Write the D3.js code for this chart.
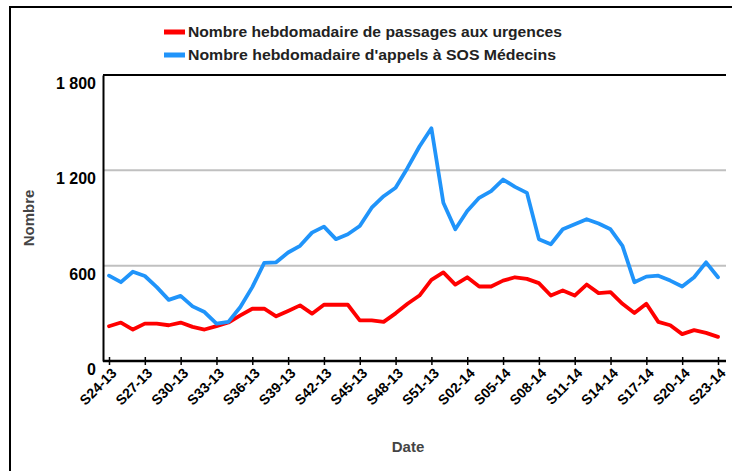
<!DOCTYPE html>
<html><head><meta charset="utf-8">
<script src="https://cdn.jsdelivr.net/npm/d3@7"></script>
<style>
html,body{margin:0;padding:0;background:#fff;}
svg{display:block;font-family:"Liberation Sans",Arial,sans-serif;font-weight:bold;}
</style></head>
<body>
<svg id="chart" width="732" height="471"></svg>
<script>
const weeks = [];
for (let w = 24; w <= 52; w++) weeks.push("S" + String(w).padStart(2,"0") + "-13");
for (let w = 1; w <= 23; w++) weeks.push("S" + String(w).padStart(2,"0") + "-14");

const urgences = [219,242,198,235,235,225,242,215,198,219,242,287,329,329,281,315,350,298,354,354,354,256,256,246,300,360,412,510,558,481,527,469,469,506,527,517,490,412,444,412,481,427,433,360,302,360,246,225,169,194,177,152];
const sosMedecins = [537,496,562,535,465,385,410,344,308,235,246,340,465,617,621,683,725,808,846,767,798,850,965,1037,1090,1215,1350,1465,996,829,944,1027,1069,1142,1096,1058,767,735,829,860,892,865,829,725,496,531,537,506,469,527,621,527];

const yTicks = [0, 600, 1200, 1800];
const xTickLabels = weeks.filter((d,i) => i % 3 === 0);
const seriesNames = ["Nombre hebdomadaire de passages aux urgences", "Nombre hebdomadaire d'appels à SOS Médecins"];
const seriesColors = ["#ff0000", "#2094fa"];

const svg = d3.select("#chart");
const plot = {left:103, right:726, top:75, bottom:361};

const x = d3.scalePoint().domain(weeks).range([109, 718]);
const y = d3.scaleLinear().domain([0, 1800]).range([plot.bottom, plot.top]);
const fmt = d3.formatLocale({decimal:",", thousands:" ", grouping:[3], currency:["","€"]}).format(",d");

// outer frame
svg.append("path").attr("d","M10,480V7H740").attr("fill","none").attr("stroke","#000").attr("stroke-width",2);

// gridlines
svg.append("g").selectAll("line").data(yTicks.filter(d => d > 0 && d < 1800)).join("line")
  .attr("x1", plot.left).attr("x2", plot.right)
  .attr("y1", d => y(d)).attr("y2", d => y(d))
  .attr("stroke", "#c0c0c0").attr("stroke-width", 2);

// top border
svg.append("line").attr("x1", plot.left).attr("x2", plot.right)
  .attr("y1", y(1800)).attr("y2", y(1800)).attr("stroke","#000").attr("stroke-width",2);

// lines
const line = d3.line().x((d,i) => x(weeks[i])).y(d => y(d));
[urgences, sosMedecins].forEach((s, k) => {
  svg.append("path").datum(s).attr("d", line).attr("fill","none")
    .attr("stroke", seriesColors[k]).attr("stroke-width", 3.8)
    .attr("stroke-linejoin","round").attr("stroke-linecap","round");
});

// y axis
const yAxis = svg.append("g").attr("transform", `translate(${plot.left},0)`)
  .call(d3.axisLeft(y).tickValues(yTicks).tickSize(0).tickPadding(8).tickFormat(fmt));
yAxis.select(".domain").attr("stroke","#000").attr("stroke-width",2);
yAxis.selectAll("text").attr("font-size", 16).attr("font-family","Liberation Sans, Arial, sans-serif")
  .attr("font-weight","bold").attr("fill","#000").attr("dy", "0.85em").attr("x", -7);

// x axis
const xAxis = svg.append("g").attr("transform", `translate(0,${plot.bottom})`)
  .call(d3.axisBottom(x).tickValues(xTickLabels).tickSize(4).tickPadding(4));
xAxis.select(".domain").attr("d", `M${plot.left},0H${plot.right}`).attr("stroke","#000").attr("stroke-width",2.5);
xAxis.selectAll(".tick line").attr("y1", -4).attr("y2", 4).attr("stroke","#000").attr("stroke-width",1.5);
xAxis.selectAll(".tick text")
  .attr("font-size", 14).attr("font-family","Liberation Sans, Arial, sans-serif").attr("font-weight","bold").attr("fill","#000")
  .attr("text-anchor","end").attr("dy", null).attr("y", 0)
  .attr("transform", "translate(8,13) rotate(-45)");

// axis titles
svg.append("text").attr("transform","translate(34,218) rotate(-90)").attr("text-anchor","middle")
  .attr("font-size", 15).attr("fill","#444").text("Nombre");
svg.append("text").attr("x", 408).attr("y", 452).attr("text-anchor","middle")
  .attr("font-size", 15).attr("fill","#444").text("Date");

// legend
const leg = svg.append("g");
seriesNames.forEach((n, k) => {
  const cy = 32 + k * 23;
  leg.append("rect").attr("x", 164).attr("y", cy - 2.5).attr("width", 21).attr("height", 5).attr("fill", seriesColors[k]);
  leg.append("text").attr("x", 188).attr("y", cy + 5).attr("font-size", 15).attr("fill","#222")
    .attr("textLength", k === 0 ? 374 : 368).attr("lengthAdjust","spacingAndGlyphs").text(n);
});
</script>
</body></html>
